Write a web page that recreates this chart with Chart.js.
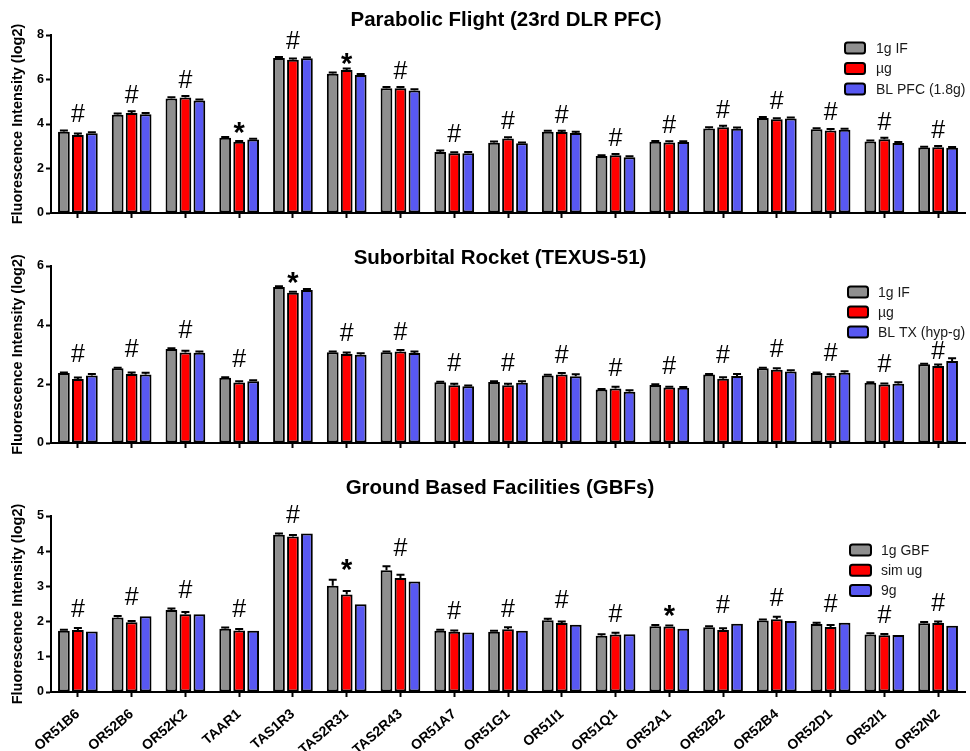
<!DOCTYPE html>
<html>
<head>
<meta charset="utf-8">
<title>Fluorescence intensity of chemosensory receptors</title>
<script src="https://cdn.jsdelivr.net/npm/chart.js@4.4.1/dist/chart.umd.min.js"></script>
<style>
  html, body { margin: 0; padding: 0; background: #fff; }
  #page { position: relative; width: 970px; height: 751px; overflow: hidden; background: #fff; }
  .panel { position: absolute; left: 0; width: 970px; }
</style>
</head>
<body>
<div id="page">
  <div class="panel" style="top:0;height:236px"><canvas id="pfc"></canvas></div>
  <div class="panel" style="top:238px;height:222px"><canvas id="texus"></canvas></div>
  <div class="panel" style="top:465px;height:286px"><canvas id="gbf"></canvas></div>
</div>
<script>
// Receptor genes (shared category axis)
const genes = ['OR51B6', 'OR52B6', 'OR52K2', 'TAAR1', 'TAS1R3', 'TAS2R31', 'TAS2R43', 'OR51A7',
  'OR51G1', 'OR51I1', 'OR51Q1', 'OR52A1', 'OR52B2', 'OR52B4', 'OR52D1', 'OR52I1', 'OR52N2'];

// Parabolic Flight (23rd DLR PFC)
const pfcSeries = ['1g IF', 'µg', 'BL PFC (1.8g)'];
const pfc1g   = [3.65, 4.42, 5.15, 3.38, 6.97, 6.26, 5.61, 2.74, 3.16, 3.65, 2.56, 3.20, 3.80, 4.27, 3.76, 3.21, 2.94];
const pfcUg   = [3.51, 4.50, 5.19, 3.20, 6.89, 6.43, 5.61, 2.68, 3.35, 3.64, 2.60, 3.17, 3.85, 4.21, 3.71, 3.32, 2.96];
const pfcBl   = [3.58, 4.44, 5.06, 3.30, 6.95, 6.20, 5.51, 2.69, 3.13, 3.60, 2.51, 3.19, 3.79, 4.25, 3.74, 3.15, 2.93];
const pfcErr1g = [0.06, 0.05, 0.05, 0.04, 0.04, 0.05, 0.05, 0.07, 0.05, 0.05, 0.04, 0.04, 0.05, 0.05, 0.05, 0.05, 0.04];
const pfcErrUg = [0.06, 0.07, 0.07, 0.04, 0.05, 0.07, 0.05, 0.05, 0.06, 0.06, 0.05, 0.05, 0.07, 0.05, 0.06, 0.06, 0.05];
const pfcErrBl = [0.05, 0.05, 0.04, 0.04, 0.04, 0.05, 0.05, 0.05, 0.04, 0.05, 0.04, 0.04, 0.05, 0.04, 0.05, 0.04, 0.04];
const pfcMarks = ['#', '#', '#', '*', '#', '*', '#', '#', '#', '#', '#', '#', '#', '#', '#', '#', '#'];
const pfcTicks = [0, 2, 4, 6, 8];

// Suborbital Rocket (TEXUS-51)
const texSeries = ['1g IF', 'µg', 'BL TX (hyp-g)'];
const tex1g   = [2.37, 2.53, 3.19, 2.21, 5.29, 3.08, 3.08, 2.06, 2.07, 2.29, 1.81, 1.97, 2.32, 2.53, 2.37, 2.04, 2.67];
const texUg   = [2.17, 2.34, 3.07, 2.05, 5.09, 3.02, 3.10, 1.96, 1.96, 2.32, 1.85, 1.88, 2.18, 2.48, 2.28, 1.98, 2.61];
const texBl   = [2.29, 2.32, 3.06, 2.09, 5.19, 2.99, 3.05, 1.92, 2.04, 2.26, 1.74, 1.87, 2.27, 2.42, 2.38, 2.01, 2.78];
const texErr1g = [0.02, 0.02, 0.02, 0.02, 0.02, 0.02, 0.02, 0.02, 0.02, 0.02, 0.02, 0.02, 0.02, 0.02, 0.02, 0.02, 0.02];
const texErrUg = [0.05, 0.05, 0.06, 0.04, 0.04, 0.05, 0.05, 0.05, 0.05, 0.05, 0.06, 0.03, 0.05, 0.05, 0.05, 0.04, 0.05];
const texErrBl = [0.05, 0.06, 0.04, 0.04, 0.03, 0.05, 0.05, 0.03, 0.05, 0.07, 0.05, 0.03, 0.07, 0.05, 0.05, 0.05, 0.09];
const texMarks = ['#', '#', '#', '#', '*', '#', '#', '#', '#', '#', '#', '#', '#', '#', '#', '#', '#'];
const texTicks = [0, 2, 4, 6];

// Ground Based Facilities (GBFs)
const gbfSeries = ['1g GBF', 'sim ug', '9g'];
const gbf1g   = [1.74, 2.12, 2.33, 1.80, 4.47, 3.02, 3.46, 1.74, 1.71, 2.04, 1.60, 1.87, 1.84, 2.03, 1.93, 1.63, 1.95];
const gbfSim  = [1.76, 1.98, 2.21, 1.75, 4.42, 2.77, 3.24, 1.71, 1.78, 1.96, 1.63, 1.86, 1.76, 2.07, 1.85, 1.61, 1.96];
const gbf9g   = [1.72, 2.15, 2.21, 1.74, 4.50, 2.49, 3.14, 1.69, 1.74, 1.91, 1.64, 1.80, 1.94, 2.02, 1.97, 1.62, 1.88];
const gbfErr1g = [0.03, 0.04, 0.04, 0.03, 0.03, 0.17, 0.11, 0.03, 0.03, 0.04, 0.04, 0.03, 0.03, 0.03, 0.04, 0.04, 0.04];
const gbfErrSim = [0.06, 0.04, 0.06, 0.04, 0.04, 0.10, 0.09, 0.04, 0.06, 0.04, 0.05, 0.03, 0.05, 0.07, 0.05, 0.04, 0.04];
const gbfErr9g = [0, 0, 0, 0, 0, 0, 0, 0, 0, 0, 0, 0, 0, 0, 0, 0, 0];
const gbfMarks = ['#', '#', '#', '#', '#', '*', '#', '#', '#', '#', '#', '*', '#', '#', '#', '#', '#'];
const gbfTicks = [0, 1, 2, 3, 4, 5];

const FONT = '"Liberation Sans", Arial, Helvetica, sans-serif';
const GREY = '#8f8f8f', RED = '#ff0000', BLUE = '#5858f2';

Chart.defaults.font.family = FONT;
Chart.defaults.color = '#000';

// Error bars, significance marks, title and in-plot legend
const extras = {
  id: 'extras',
  afterDatasetsDraw(chart) {
    const ctx = chart.ctx, y = chart.scales.y;
    ctx.save();
    ctx.strokeStyle = '#000';
    ctx.lineWidth = 2;
    chart.data.datasets.forEach((ds, di) => {
      const meta = chart.getDatasetMeta(di);
      meta.data.forEach((bar, i) => {
        const e = ds.errors[i];
        if (!e) return;
        const top = y.getPixelForValue(ds.data[i] + e);
        ctx.beginPath();
        ctx.moveTo(bar.x, bar.y);
        ctx.lineTo(bar.x, top);
        ctx.moveTo(bar.x - 4, top);
        ctx.lineTo(bar.x + 4, top);
        ctx.stroke();
      });
    });
    ctx.restore();
  },
  afterDraw(chart, args, o) {
    const ctx = chart.ctx, x = chart.scales.x, y = chart.scales.y;
    const ds = chart.data.datasets;
    const legendBottom = o.legendY + (ds.length - 1) * o.legendStep + 5;
    ctx.save();
    // title
    ctx.fillStyle = '#000';
    ctx.font = 'bold 20.5px ' + FONT;
    ctx.textAlign = 'center';
    ctx.textBaseline = 'middle';
    ctx.fillText(o.title, o.titleX, o.titleY);
    // significance marks above each receptor group
    o.marks.forEach((m, i) => {
      let top = 0;
      ds.forEach(d => { top = Math.max(top, d.data[i] + (d.errors[i] || 0)); });
      const py = y.getPixelForValue(top);
      const cx = x.getPixelForValue(i);
      ctx.textAlign = 'center';
      ctx.textBaseline = 'alphabetic';
      if (m === '#') {
        let cy = py - o.hashGap;
        // keep the mark clear of the legend block
        if (cx + 7 > o.boxX && cy - 6 < legendBottom) cy = legendBottom + 13;
        ctx.font = '25px ' + FONT;
        ctx.fillText('#', cx, cy + 8.5);
      } else {
        ctx.font = 'bold 29px ' + FONT;
        ctx.fillText('*', cx, py - o.starGap + 16.5);
      }
    });
    // legend
    ds.forEach((d, i) => {
      const cy = o.legendY + i * o.legendStep;
      ctx.beginPath();
      ctx.roundRect(o.boxX, cy - 5.5, o.boxW, 11, 2.5);
      ctx.fillStyle = d.backgroundColor;
      ctx.fill();
      ctx.lineWidth = 2;
      ctx.strokeStyle = '#000';
      ctx.stroke();
      ctx.fillStyle = '#1a1a1a';
      ctx.font = '14px ' + FONT;
      ctx.textAlign = 'left';
      ctx.textBaseline = 'middle';
      ctx.fillText(d.label, o.textX, cy + 1);
    });
    ctx.restore();
  }
};

function makePanel(id, cfg) {
  const colors = [GREY, RED, BLUE];
  const datasets = cfg.series.map((name, k) => ({
    label: name,
    data: cfg.values[k],
    errors: cfg.errors[k],
    backgroundColor: colors[k],
    borderColor: '#000',
    borderWidth: 2,
    borderSkipped: false,
    categoryPercentage: 0.78,
    barPercentage: 0.84
  }));
  return new Chart(document.getElementById(id), {
    type: 'bar',
    data: { labels: genes, datasets },
    options: {
      responsive: true,
      maintainAspectRatio: false,
      animation: false,
      devicePixelRatio: 1,
      layout: { padding: { top: cfg.padTop, right: 5, left: 0, bottom: 0 } },
      plugins: {
        legend: { display: false },
        title: { display: false },
        tooltip: { enabled: false },
        extras: cfg.extras
      },
      scales: {
        x: {
          type: 'category',
          grid: { display: true, offset: false, drawOnChartArea: false, drawTicks: true,
                  tickLength: 5, tickColor: '#000', tickWidth: 2 },
          border: { display: true, color: '#000', width: 2 },
          ticks: {
            display: cfg.showLabels,
            autoSkip: false,
            minRotation: 41,
            maxRotation: 41,
            padding: 9,
            color: '#000',
            font: { size: 14, weight: 'bold' }
          },
          afterFit: s => { s.height = cfg.xHeight; }
        },
        y: {
          min: 0,
          max: cfg.ticks[cfg.ticks.length - 1],
          afterBuildTicks: s => { s.ticks = cfg.ticks.map(v => ({ value: v })); },
          grid: { display: true, drawOnChartArea: false, drawTicks: true,
                  tickLength: 5, tickColor: '#000', tickWidth: 2 },
          border: { display: true, color: '#000', width: 2 },
          ticks: { color: '#000', padding: 2, font: { size: 12.5, weight: 'bold' } },
          title: {
            display: true,
            text: 'Fluorescence Intensity (log2)',
            color: '#000',
            font: { size: 14.5, weight: 'bold' },
            padding: { top: 9, bottom: 0 }
          },
          afterFit: s => { s.width = 51; }
        }
      }
    },
    plugins: [extras]
  });
}

makePanel('pfc', {
  series: pfcSeries,
  values: [pfc1g, pfcUg, pfcBl],
  errors: [pfcErr1g, pfcErrUg, pfcErrBl],
  ticks: pfcTicks,
  padTop: 35, xHeight: 23, showLabels: false,
  extras: { title: 'Parabolic Flight (23rd DLR PFC)', titleX: 506, titleY: 20,
            marks: pfcMarks, hashGap: 16.5, starGap: 11.5,
            legendY: 48, legendStep: 20.5, boxX: 845, boxW: 20, textX: 876 }
});

makePanel('texus', {
  series: texSeries,
  values: [tex1g, texUg, texBl],
  errors: [texErr1g, texErrUg, texErrBl],
  ticks: texTicks,
  padTop: 28, xHeight: 17, showLabels: false,
  extras: { title: 'Suborbital Rocket (TEXUS-51)', titleX: 500, titleY: 20,
            marks: texMarks, hashGap: 19, starGap: 11,
            legendY: 54, legendStep: 20, boxX: 848, boxW: 20, textX: 878 }
});

makePanel('gbf', {
  series: gbfSeries,
  values: [gbf1g, gbfSim, gbf9g],
  errors: [gbfErr1g, gbfErrSim, gbfErr9g],
  ticks: gbfTicks,
  padTop: 51, xHeight: 59, showLabels: true,
  extras: { title: 'Ground Based Facilities (GBFs)', titleX: 500, titleY: 23,
            marks: gbfMarks, hashGap: 19, starGap: 17,
            legendY: 85, legendStep: 20.3, boxX: 850, boxW: 21, textX: 881 }
});
</script>
</body>
</html>
